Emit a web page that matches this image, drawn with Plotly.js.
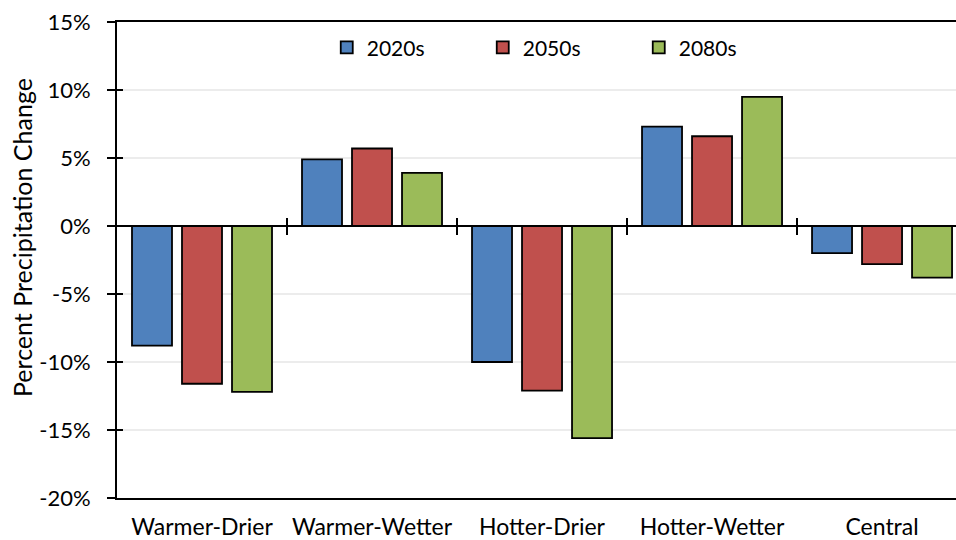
<!DOCTYPE html>
<html>
<head>
<meta charset="utf-8">
<script src="https://cdn.plot.ly/plotly-3.0.1.min.js"></script>
<style>html,body{margin:0;padding:0;background:#fff;}#chart{width:956px;height:540px;}</style>
</head>
<body>
<div id="chart"></div>
<script>
const categories = ["Warmer-Drier", "Warmer-Wetter", "Hotter-Drier", "Hotter-Wetter", "Central"];
const seriesNames = ["2020s", "2050s", "2080s"];
const values2020s = [-8.8, 4.9, -10.0, 7.3, -2.0];
const values2050s = [-11.6, 5.7, -12.1, 6.6, -2.8];
const values2080s = [-12.2, 3.9, -15.6, 9.5, -3.8];
const yTickVals = [-20, -15, -10, -5, 0, 5, 10, 15];
const yTickText = ["-20%", "-15%", "-10%", "-5%", "0%", "5%", "10%", "15%"];
const boundaryTicks = [0.5, 1.5, 2.5, 3.5];
const yTitle = "Percent Precipitation Change";

const colors = ["#4F81BD", "#C0504D", "#9BBB59"];
const allValues = [values2020s, values2050s, values2080s];
const FONT = "Lato, 'Liberation Sans', sans-serif";

const traces = seriesNames.map((name, i) => ({
  type: "bar",
  name: name,
  x: categories,
  y: allValues[i],
  marker: { color: colors[i], line: { color: "#000", width: 1.8 } },
  hoverinfo: "skip"
}));
// empty helper traces so the tick-only overlay axes are registered
traces.push({ type: "scatter", x: [], y: [], xaxis: "x2", yaxis: "y", showlegend: false, hoverinfo: "skip" });
traces.push({ type: "scatter", x: [], y: [], xaxis: "x3", yaxis: "y", showlegend: false, hoverinfo: "skip" });
traces.push({ type: "scatter", x: [], y: [], xaxis: "x", yaxis: "y2", showlegend: false, hoverinfo: "skip" });

const xRange = [-0.5, 4.435];
const layout = {
  width: 956, height: 540,
  margin: { l: 117, r: 0, t: 22, b: 42, pad: 0 },
  paper_bgcolor: "#fff", plot_bgcolor: "#fff",
  font: { family: FONT, size: 22, color: "#000" },
  barmode: "group",
  bargap: 0.1176,
  bargroupgap: 0.2,
  showlegend: true,
  legend: {
    orientation: "h", x: 0.25, xanchor: "left", y: 0.946, yanchor: "middle",
    font: { family: FONT, size: 21, color: "#000" },
    entrywidth: 111, entrywidthmode: "pixels",
    itemwidth: 30, traceorder: "normal", bgcolor: "rgba(0,0,0,0)"
  },
  xaxis: {
    type: "category", range: xRange,
    showline: true, linecolor: "#000", linewidth: 2, mirror: true,
    ticks: "", showgrid: false, zeroline: false,
    tickfont: { family: FONT, size: 23, color: "#000" },
    ticklabelstandoff: 7
  },
  xaxis2: {
    type: "linear", range: xRange, overlaying: "x", anchor: "free", position: 4/7,
    showline: false, showgrid: false, zeroline: false, showticklabels: false,
    tickmode: "array", tickvals: boundaryTicks, ticks: "outside", ticklen: 8, tickwidth: 1.5, tickcolor: "#000"
  },
  xaxis3: {
    type: "linear", range: xRange, overlaying: "x", anchor: "free", position: 4/7, side: "top",
    showline: false, showgrid: false, zeroline: false, showticklabels: false,
    tickmode: "array", tickvals: boundaryTicks, ticks: "outside", ticklen: 8, tickwidth: 1.5, tickcolor: "#000"
  },
  yaxis: {
    range: [-20, 15], tickmode: "array", tickvals: yTickVals, ticktext: yTickText,
    showline: true, linecolor: "#000", linewidth: 2,
    ticks: "outside", ticklen: 8, tickwidth: 2, tickcolor: "#000",
    showgrid: true, gridcolor: "#ececec", gridwidth: 1.5,
    zeroline: true, zerolinecolor: "#000", zerolinewidth: 1.5,
    tickfont: { family: FONT, size: 22, color: "#000" },
    ticklabelstandoff: 12
  },
  yaxis2: {
    range: [-20, 15], overlaying: "y", side: "left", tickmode: "array", tickvals: yTickVals,
    showline: false, showgrid: false, zeroline: false, showticklabels: false,
    ticks: "inside", ticklen: 6, tickwidth: 2, tickcolor: "#000"
  },
  annotations: [{
    text: yTitle, xref: "paper", yref: "paper",
    x: -0.1132, y: 0.5463, xanchor: "center", yanchor: "middle",
    textangle: -90, showarrow: false,
    font: { family: FONT, size: 25, color: "#000" }
  }]
};

Plotly.newPlot("chart", traces, layout, { displayModeBar: false, staticPlot: true });
</script>
</body>
</html>
